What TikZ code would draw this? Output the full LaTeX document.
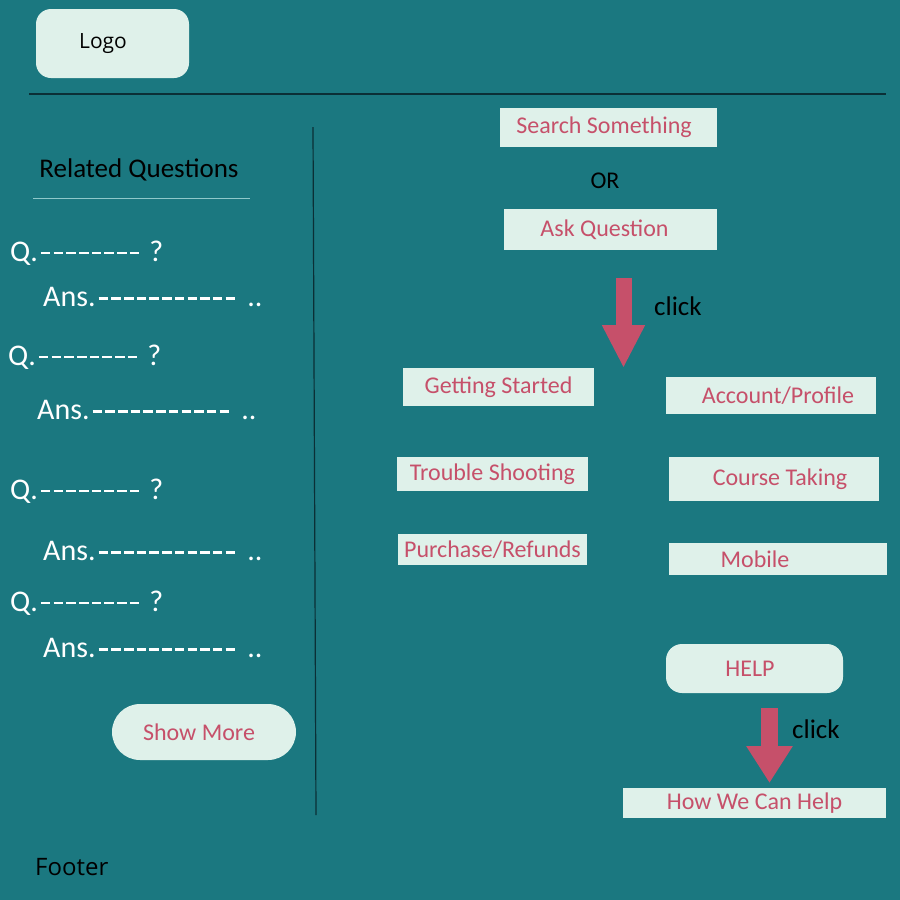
\documentclass[tikz,border=0pt]{standalone}
\usepackage{fontspec}
\setmainfont{Carlito}
\newfontfamily\plainfont{Open Sans}
\usetikzlibrary{positioning, arrows.meta}
\definecolor{pagebg}{HTML}{1B7880}
\definecolor{boxfill}{HTML}{DFF1EA}
\definecolor{pinktext}{HTML}{C6506A}
\definecolor{darkline}{HTML}{0B2F36}
\definecolor{paleline}{HTML}{8FC8CA}
\newcommand\dashrun[1]{\kern3pt\foreach \k in {1,...,#1}{\rule[7pt]{9.5pt}{2.2pt}\kern3.2pt}}
\begin{document}
\begin{tikzpicture}
  [x=1pt,y=-1pt,
   menubox/.style={rectangle,fill=boxfill,inner sep=0pt,text=pinktext,font=\fontsize{24}{28}\selectfont},
   pillbox/.style={menubox,rounded corners=18pt},
   handtext/.style={inner sep=0pt,anchor=west,font=\fontsize{27}{32}\selectfont},
   qatext/.style={handtext,text=white,font=\fontsize{30}{34}\selectfont},
   clickarrow/.style={line width=16pt,draw=pinktext,-{Triangle[width=40pt,length=43pt]}}]
  \fill [pagebg] (0,0) rectangle (900,900);
  \useasboundingbox (0,0) rectangle (900,900);
  % header
  \node (logobox) at (112.5,43.5) [pillbox,rounded corners=15pt,minimum width=153pt,minimum height=69pt,
    text=black,font=\plainfont\fontsize{21}{25}\selectfont] {Logo\hspace{19pt}\mbox{}};
  \coordinate (headleft) at (29,94);
  \coordinate (headright) at (886,94);
  \draw [darkline,line width=1.2pt] (headleft) -- (headright);
  \coordinate (dividetop) at (313,127);
  \coordinate (dividebottom) at (316,815);
  \draw [darkline,line width=1.2pt] (dividetop) -- (dividebottom);
  % left column
  \node (relatedlabel) at (139,170) [inner sep=0pt,font=\fontsize{27}{32}\selectfont] {Related Questions};
  \coordinate (underleft) at (33,198);
  \coordinate (underright) at (250,198);
  \draw [paleline,line width=1pt] (underleft) -- (underright);
  \node (question0) at (10,253) [qatext] {Q.\dashrun{8} ?};
  \node (answer0) at (43,297) [qatext] {Ans.\dashrun{11}\hspace{9pt}..};
  \node (question1) at (8,357) [qatext] {Q.\dashrun{8} ?};
  \node (answer1) at (37,410) [qatext] {Ans.\dashrun{11}\hspace{9pt}..};
  \node (question2) at (10,491) [qatext] {Q.\dashrun{8} ?};
  \node (answer2) at (43,551) [qatext] {Ans.\dashrun{11}\hspace{9pt}..};
  \node (question3) at (10,603) [qatext] {Q.\dashrun{8} ?};
  \node (answer3) at (43,648) [qatext] {Ans.\dashrun{11}\hspace{9pt}..};
  \node (showmore) at (204,732) [pillbox,rounded corners=28pt,minimum width=184pt,minimum height=56pt]
    {Show More\hspace{10pt}\mbox{}};
  \node (footerlabel) at (35,867) [inner sep=0pt,anchor=west,font=\plainfont\fontsize{24}{28}\selectfont] {Footer};
  % search area
  \node (searchbox) at (608.5,127.5) [menubox,minimum width=217pt,minimum height=39pt]
    {Search Something\hspace{9pt}\mbox{}};
  \node (orlabel) at (605,181) [inner sep=0pt,font=\fontsize{24}{28}\selectfont] {OR};
  \node (askbox) at (610.5,229.5) [menubox,minimum width=213pt,minimum height=41pt]
    {Ask Question\hspace{12pt}\mbox{}};
  \coordinate (arrowtop0) at (623.5,278);
  \coordinate (arrowtip0) at (623.5,368);
  \draw [clickarrow] (arrowtop0) -- (arrowtip0);
  \node (clicklabel0) at (654,306) [handtext] {click};
  % topics
  \node (startedbox) at (498.5,387) [menubox,minimum width=191pt,minimum height=38pt] {Getting Started};
  \node (accountbox) at (771,395.5) [menubox,minimum width=210pt,minimum height=37pt]
    {\mbox{}\hspace{14pt}Account/Profile};
  \node (troublebox) at (492.5,474) [menubox,minimum width=191pt,minimum height=34pt] {Trouble Shooting};
  \node (coursebox) at (774,479) [menubox,minimum width=210pt,minimum height=44pt]
    {\mbox{}\hspace{12pt}Course Taking};
  \node (purchasebox) at (492.5,549.5) [menubox,minimum width=189pt,minimum height=31pt] {Purchase/Refunds};
  \node (mobilebox) at (778,559) [menubox,minimum width=218pt,minimum height=32pt] {Mobile\hspace{46pt}\mbox{}};
  % help
  \node (helpbox) at (754.5,668.5) [pillbox,rounded corners=16pt,minimum width=177pt,minimum height=49pt]
    {HELP\hspace{9pt}\mbox{}};
  \coordinate (arrowtop1) at (769.5,708);
  \coordinate (arrowtip1) at (769.5,783);
  \draw [clickarrow,line width=17pt,-{Triangle[width=44pt,length=37pt]}] (arrowtop1) -- (arrowtip1);
  \node (clicklabel1) at (792,729) [handtext] {click};
  \node (canhelpbox) at (754.5,803) [menubox,minimum width=263pt,minimum height=30pt] {How We Can Help};
\end{tikzpicture}
\end{document}
